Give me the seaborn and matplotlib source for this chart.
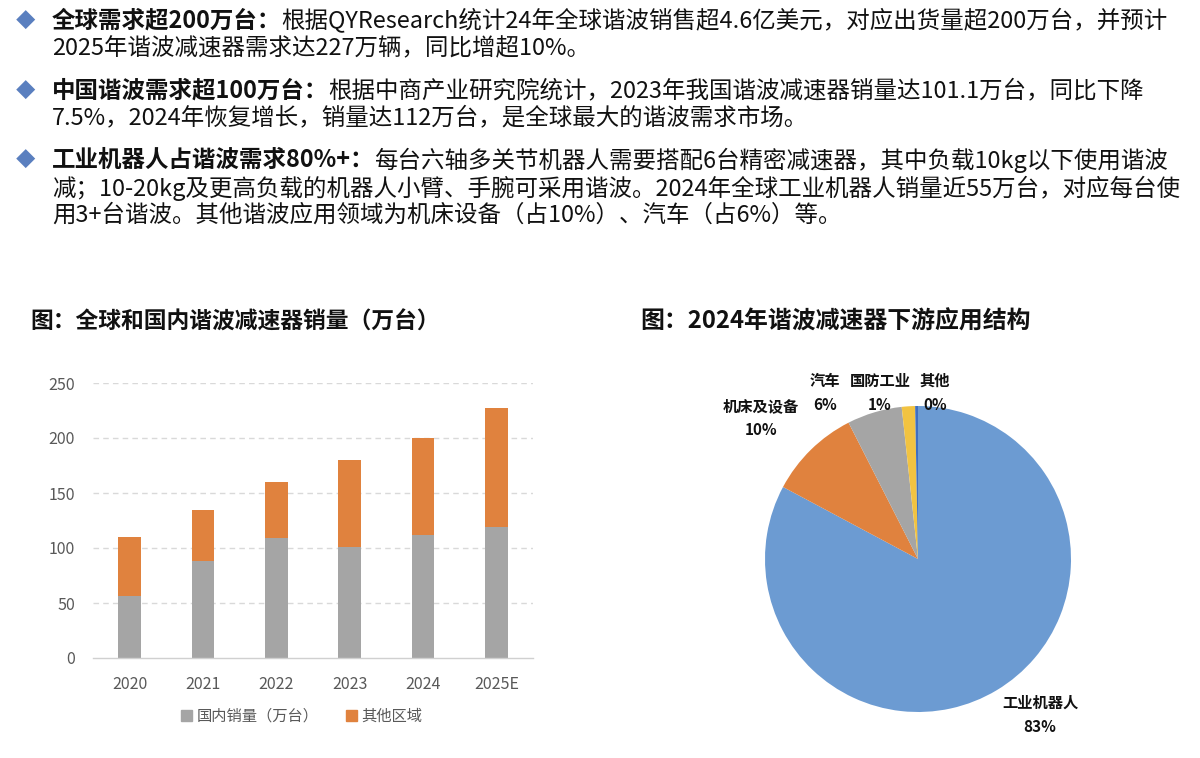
import numpy as np
import matplotlib
matplotlib.use("Agg")
import matplotlib.pyplot as plt
from matplotlib.patches import Patch
import seaborn as sns
import pandas as pd

# ----- DATA -----
years = ["2020", "2021", "2022", "2023", "2024", "2025E"]
domestic = [56, 88, 109, 101, 112, 119]
total = [110, 135, 160, 180, 200, 227]
yticks = [0, 50, 100, 150, 200, 250]

pie_names = ["工业机器人", "机床及设备", "汽车", "国防工业", "其他"]
pie_values = [82.8, 9.7, 5.8, 1.4, 0.3]
pie_pct = ["83%", "10%", "6%", "1%", "0%"]

bullets = [
    ("全球需求超200万台：",
     ["根据QYResearch统计24年全球谐波销售超4.6亿美元，对应出货量超200万台，并预计",
      "2025年谐波减速器需求达227万辆，同比增超10%。"]),
    ("中国谐波需求超100万台：",
     ["根据中商产业研究院统计，2023年我国谐波减速器销量达101.1万台，同比下降",
      "7.5%，2024年恢复增长，销量达112万台，是全球最大的谐波需求市场。"]),
    ("工业机器人占谐波需求80%+：",
     ["每台六轴多关节机器人需要搭配6台精密减速器，其中负载10kg以下使用谐波",
      "减；10-20kg及更高负载的机器人小臂、手腕可采用谐波。2024年全球工业机器人销量近55万台，对应每台使",
      "用3+台谐波。其他谐波应用领域为机床设备（占10%）、汽车（占6%）等。"]),
]

GRAY = "#A5A5A5"
ORANGE = "#E0823E"
PIE_COLORS = ["#6C9BD2", ORANGE, GRAY, "#F2C341", "#3F6FC0"]

sns.set_theme(style="white")
plt.rcParams['font.family'] = ['Noto Sans CJK SC', 'DejaVu Sans']

W, H = 1200, 758
fig = plt.figure(figsize=(W / 100, H / 100), dpi=100)
fig.patch.set_facecolor("white")
renderer = fig.canvas.get_renderer()


def fx(px):
    return px / W


def fy(py):
    return 1 - py / H


# ----- TOP TEXT -----
line_y = [[21, 49], [91, 118], [160, 188, 215]]
fs = 16.9
for (head, lines), ys in zip(bullets, line_y):
    fig.text(fx(16), fy(ys[0]), "◆", color="#5A7FBF", fontsize=14, va="center", ha="left")
    t = fig.text(fx(52), fy(ys[0]), head, fontsize=fs, fontweight="bold", color="#111111",
                 va="center", ha="left")
    bb = t.get_window_extent(renderer)
    fig.text(bb.x1 / W, fy(ys[0]), lines[0], fontsize=fs, color="#111111", va="center", ha="left")
    for ln, yy in zip(lines[1:], ys[1:]):
        fig.text(fx(52), fy(yy), ln, fontsize=fs, color="#111111", va="center", ha="left")

# ----- TITLES -----
fig.text(fx(30), fy(322), "图：全球和国内谐波减速器销量（万台）", fontsize=16.4, fontweight="bold",
         color="#111111", va="center", ha="left")
fig.text(fx(640), fy(322), "图：2024年谐波减速器下游应用结构", fontsize=17.2, fontweight="bold",
         color="#111111", va="center", ha="left")

# ----- BAR CHART -----
ax = fig.add_axes([fx(93), 1 - 658 / H, (533 - 93) / W, (658 - 383) / H * 1.0])
df = pd.DataFrame({"year": years, "domestic": domestic, "total": total})
sns.barplot(data=df, x="year", y="total", color=ORANGE, width=0.31, saturation=1, ax=ax)
sns.barplot(data=df, x="year", y="domestic", color=GRAY, width=0.31, saturation=1, ax=ax)
for p in ax.patches:
    p.set_edgecolor("none")
ax.set_xlim(-0.5, len(years) - 0.5)
ax.set_ylim(0, 250)
ax.set_yticks(yticks)
ax.set_xlabel("")
ax.set_ylabel("")
for v in yticks[1:]:
    ax.axhline(v, color="#D9D9D9", lw=1, ls=(0, (4, 3)), zorder=0)
for s in ["top", "right", "left"]:
    ax.spines[s].set_visible(False)
ax.spines["bottom"].set_color("#D0D0D0")
ax.spines["bottom"].set_linewidth(1)
ax.tick_params(axis="both", length=0, colors="#595959", labelsize=11.5)
ax.tick_params(axis="y", pad=13)
ax.tick_params(axis="x", pad=13)
ax.set_facecolor("none")
handles = [Patch(color=GRAY, label="国内销量（万台）"), Patch(color=ORANGE, label="其他区域")]
fig.legend(handles=handles, loc="center", bbox_to_anchor=(fx(302), fy(716)), ncol=2,
           frameon=False, fontsize=11, handlelength=0.7, handleheight=0.7,
           handletextpad=0.3, columnspacing=1.8, labelcolor="#595959")

# ----- PIE CHART -----
cx, cy, r = 918, 559, 153
pax = fig.add_axes([fx(cx - r), 1 - (cy + r) / H, 2 * r / W, 2 * r / H])
pax.pie(pie_values, colors=PIE_COLORS, startangle=90, counterclock=False,
        wedgeprops=dict(linewidth=0))
pax.set_xlim(-1, 1)
pax.set_ylim(-1, 1)
pax.set_aspect("equal")
pax.axis("off")

label_pos = [(1040, 715), (761, 418), (825, 393), (880, 393), (935, 393)]
for name, pct, (lx, ly) in zip(pie_names, pie_pct, label_pos):
    fig.text(fx(lx), fy(ly), name + "\n" + pct, fontsize=11, fontweight="bold",
             color="#111111", ha="center", va="center", linespacing=1.6)

fig.savefig("out.png", dpi=100, facecolor="white")
